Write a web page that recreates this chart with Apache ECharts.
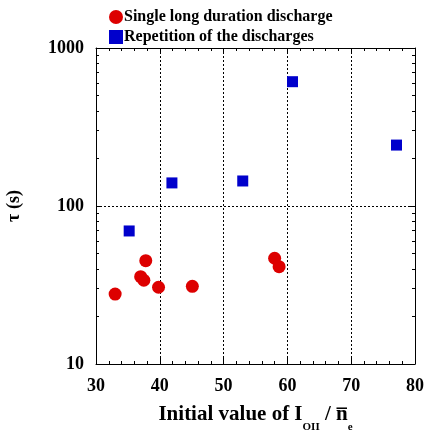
<!DOCTYPE html>
<html>
<head>
<meta charset="utf-8">
<script src="https://cdn.jsdelivr.net/npm/echarts@6/dist/echarts.min.js"></script>
<style>html,body{margin:0;padding:0;background:#fff;}#c{width:425px;height:434px;}</style>
</head>
<body>
<div id="c"></div>
<script>
// Data
const singleX = [33.0, 37.0, 37.5, 37.8, 39.8, 45.1, 58.0, 58.7];
const singleY = [27.7, 35.7, 33.9, 45.1, 30.6, 31.0, 46.7, 41.3];
const repX = [35.2, 41.9, 53.0, 60.8, 77.1];
const repY = [69.5, 140, 144, 612, 243];
const seriesNames = ['Single long duration discharge', 'Repetition of the discharges'];
const xTicks = [30, 40, 50, 60, 70, 80];
const yTicks = [10, 100, 1000];
const yMinorTicks = [20,30,40,50,60,70,80,90,200,300,400,500,600,700,800,900];

const FONT = 'Liberation Serif';
const chart = echarts.init(document.getElementById('c'));
const toPairs = (xs, ys) => xs.map((x, i) => [x, ys[i]]);

const baseX = {
  type: 'value', min: xTicks[0], max: xTicks[xTicks.length - 1], interval: 10,
  axisLine: { lineStyle: { color: '#000', width: 1 } },
  axisTick: { inside: true, length: 6, lineStyle: { color: '#000' } },
  minorTick: { show: true, splitNumber: 5, length: 3, lineStyle: { color: '#000' } },
  splitLine: { show: false }
};
const baseY = {
  type: 'log', logBase: 10, min: yTicks[0], max: yTicks[yTicks.length - 1],
  axisLine: { lineStyle: { color: '#000', width: 1 } },
  axisTick: { inside: true, length: 6, lineStyle: { color: '#000' } },
  splitLine: { show: false }
};

chart.setOption({
  animation: false,
  textStyle: { fontFamily: FONT },
  grid: { left: 96, right: 10, top: 48, bottom: 70, containLabel: false, outerBoundsMode: 'none' },
  legend: {
    orient: 'vertical', left: 104, top: 4, itemGap: 4, itemWidth: 14, itemHeight: 14,
    textStyle: { fontFamily: FONT, fontWeight: 'bold', fontSize: 16, color: '#000', padding: [0, 0, 0, -4] },
    data: [{ name: seriesNames[0], icon: 'circle' }, { name: seriesNames[1], icon: 'rect' }]
  },
  xAxis: [
    Object.assign({}, baseX, {
      position: 'bottom',
      axisLabel: { fontFamily: FONT, fontWeight: 'bold', fontSize: 18, color: '#000', margin: 13,
        customValues: xTicks },
      splitLine: { show: true, lineStyle: { color: '#000', type: [2, 2], width: 1 } },
      name: '{m|Initial value of I}{s|OII}{m| / n̅}{s|e}',
      nameLocation: 'middle', nameGap: 32,
      nameTextStyle: {
        rich: {
          m: { fontFamily: FONT, fontWeight: 'bold', fontSize: 21, color: '#000' },
          s: { fontFamily: FONT, fontWeight: 'bold', fontSize: 11, color: '#000', padding: [26, 0, 0, 0] }
        }
      }
    }),
    Object.assign({}, baseX, { position: 'top', axisLabel: { show: false } })
  ],
  yAxis: [
    Object.assign({}, baseY, {
      position: 'left',
      axisLabel: { fontFamily: FONT, fontWeight: 'bold', fontSize: 18, color: '#000', margin: 12,
        customValues: yTicks, formatter: v => String(v) },
      splitLine: { show: true, lineStyle: { color: '#000', type: [2, 2], width: 1 } },
      name: 'τ (s)', nameLocation: 'middle', nameGap: 73, nameRotate: 90,
      nameTextStyle: { fontFamily: FONT, fontWeight: 'bold', fontSize: 18, color: '#000' }
    }),
    Object.assign({}, baseY, { position: 'left', axisLine: { show: false }, axisLabel: { show: false },
      axisTick: { inside: true, length: 3, lineStyle: { color: '#000' }, customValues: yMinorTicks } }),
    Object.assign({}, baseY, { position: 'right', axisLabel: { show: false } }),
    Object.assign({}, baseY, { position: 'right', axisLine: { show: false }, axisLabel: { show: false },
      axisTick: { inside: true, length: 3, lineStyle: { color: '#000' }, customValues: yMinorTicks } })
  ],
  series: [
    { name: seriesNames[0], type: 'scatter', xAxisIndex: 0, yAxisIndex: 0, symbol: 'circle', symbolSize: 13,
      itemStyle: { color: '#dd0000', opacity: 1 }, data: toPairs(singleX, singleY) },
    { name: seriesNames[1], type: 'scatter', xAxisIndex: 0, yAxisIndex: 0, symbol: 'rect', symbolSize: 11,
      itemStyle: { color: '#0000cc', opacity: 1 }, data: toPairs(repX, repY) }
  ]
});
</script>
</body>
</html>
